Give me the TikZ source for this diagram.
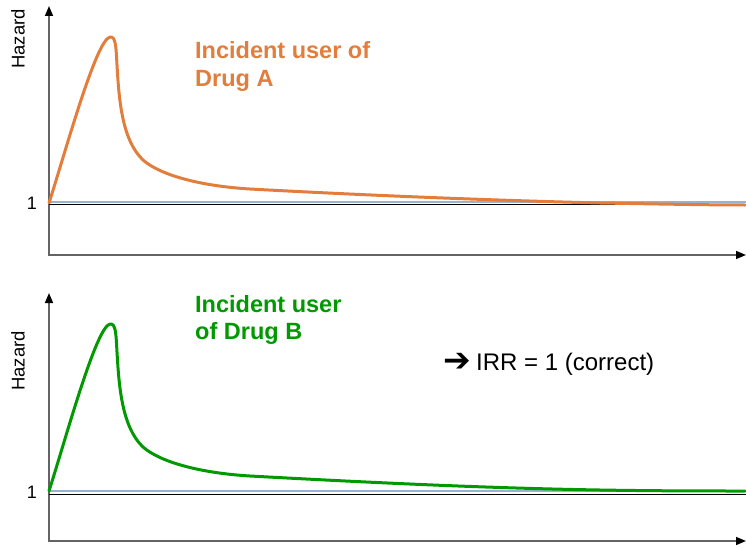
\documentclass[tikz,border=0pt]{standalone}
\usepackage{fontspec}
\setmainfont{Liberation Sans}
\newfontfamily\symfont{DejaVu Sans}
\usetikzlibrary{arrows.meta}
\definecolor{drugA}{RGB}{226,125,60}
\definecolor{drugB}{RGB}{0,153,0}
\definecolor{refline}{RGB}{150,180,210}
\definecolor{axisgray}{RGB}{100,100,100}
\tikzset{
  axis/.style={draw=axisgray, line width=1.6pt,
    {Triangle[length=10pt,width=8pt,color=black]}-{Triangle[length=10pt,width=8pt,color=black]}},
  baseline1/.style={draw=black, line width=1pt},
  unity/.style={draw=refline, line width=2pt},
  hazard/.style={line width=3pt, line cap=round, line join=round},
  ylab/.style={rotate=90, font=\fontsize{18.5}{20}\selectfont, inner sep=0pt},
  onelab/.style={font=\fontsize{18}{20}\selectfont, inner sep=0pt},
  title/.style={anchor=base west, font=\fontsize{23.5}{27}\selectfont\bfseries, inner sep=0pt},
  note/.style={anchor=base west, font=\fontsize{24}{27}\selectfont, inner sep=0pt},
  notemark/.style={anchor=west, font=\fontsize{33}{33}\selectfont\symfont\bfseries, inner sep=0pt},
}
\begin{document}
\begin{tikzpicture}[x=1pt, y=-1pt]
\useasboundingbox (0,0) rectangle (746,548);

% ---------- upper panel: drug A ----------
\coordinate (yA) at (49,6);
\coordinate (oA) at (49,255);
\coordinate (xA) at (746,255);
\draw[axis] (yA) -- (oA) -- (xA);
\coordinate (bA0) at (49,204);  \coordinate (bA1) at (746,204);
\coordinate (uA0) at (49,202);  \coordinate (uA1) at (746,202);
\draw[baseline1] (bA0) -- (bA1);
\draw[unity] (uA0) -- (uA1);
\draw[hazard, drugA]
  (49,203) .. controls (66,150) and (96,40) .. (110,37)
  .. controls (116,36) and (116,48) .. (117,65)
  .. controls (119,100) and (122,140) .. (143,160)
  .. controls (160,175) and (200,186) .. (250,189)
  .. controls (360,195) and (480,200) .. (600,203)
  .. controls (660,204) and (710,205) .. (745,205);
\node[ylab] (hA) at (18,39) {Hazard};
\node[onelab] (oneA) at (32,203) {1};
\node[title, drugA] (tA1) at (195,59) {Incident user of};
\node[title, drugA] (tA2) at (195,86.7) {Drug A};

% ---------- lower panel: drug B ----------
\coordinate (yB) at (49,293);
\coordinate (oB) at (49,541);
\coordinate (xB) at (746,541);
\draw[axis] (yB) -- (oB) -- (xB);
\coordinate (bB0) at (49,494);  \coordinate (bB1) at (746,494);
\coordinate (uB0) at (49,491);  \coordinate (uB1) at (746,491);
\draw[baseline1] (bB0) -- (bB1);
\draw[unity] (uB0) -- (uB1);
\draw[hazard, drugB]
  (49,491) .. controls (66,438) and (96,327) .. (110,324)
  .. controls (116,323) and (116,335) .. (117,352)
  .. controls (119,387) and (122,427) .. (143,447)
  .. controls (160,462) and (200,473) .. (250,476)
  .. controls (360,482) and (480,488) .. (600,490)
  .. controls (660,491) and (710,491) .. (745,491);
\node[ylab] (hB) at (18,361) {Hazard};
\node[onelab] (oneB) at (32,492) {1};
\node[title, drugB] (tB1) at (195,312.3) {Incident user};
\node[title, drugB] (tB2) at (195,339.3) {of Drug B};

% ---------- conclusion ----------
\node[notemark] (mark) at (443,362) {➔};
\node[note] (irr) at (476,370) {IRR = 1 (correct)};
\end{tikzpicture}
\end{document}
